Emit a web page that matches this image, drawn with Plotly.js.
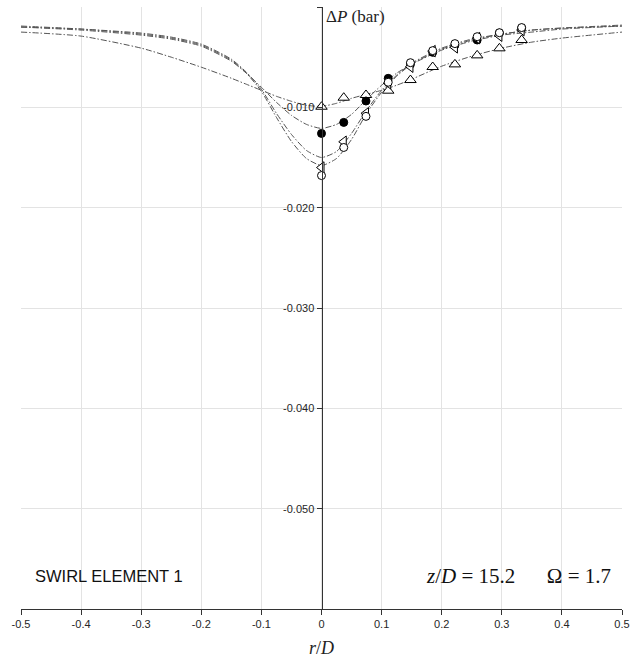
<!DOCTYPE html>
<html>
<head>
<meta charset="utf-8">
<script src="https://cdn.plot.ly/plotly-3.0.1.min.js"></script>
<style>html,body{margin:0;padding:0;background:#fff;}#chart{width:633px;height:668px;}</style>
</head>
<body>
<div id="chart"></div>
<script>
// Measured points (r/D)
const rPoints = [0, 0.037, 0.074, 0.111, 0.148, 0.185, 0.222, 0.259, 0.296, 0.333];
const dpCircleOpen   = [-0.0168, -0.0140, -0.0109, -0.0075, -0.00555, -0.00435, -0.00365, -0.00296, -0.00256, -0.00205];
const dpCircleFilled = [-0.0126, -0.0115, -0.00937, -0.00711, -0.0057, -0.00452, -0.0038, -0.00329, -0.0026, -0.0021];
const dpTriUp        = [-0.00994, -0.00904, -0.00877, -0.00834, -0.00728, -0.00598, -0.00572, -0.00482, -0.00412, -0.00329];
const dpTriLeft      = [-0.0160, -0.01343, -0.0106, -0.0076, -0.00595, -0.0044, -0.00402, -0.0031, -0.00286, -0.00229];

// Fitted curves (r/D)
const rCurve = [-0.5, -0.4, -0.3, -0.25, -0.2, -0.15, -0.125, -0.1, -0.075, -0.05, -0.025, 0, 0.025, 0.05, 0.075, 0.1, 0.125, 0.15, 0.2, 0.25, 0.3, 0.35, 0.4, 0.5];
const fitCircleOpen   = [-0.0019, -0.0022, -0.0027, -0.0031, -0.0038, -0.0053, -0.0066, -0.0084, -0.0110, -0.0134, -0.0151, -0.0158, -0.0151, -0.0132, -0.0106, -0.0085, -0.0069, -0.0057, -0.0042, -0.0033, -0.0027, -0.0023, -0.0021, -0.0018];
const fitTriLeft      = [-0.0020, -0.0022, -0.0026, -0.0030, -0.0037, -0.0052, -0.0065, -0.0082, -0.0106, -0.0127, -0.0143, -0.0150, -0.0144, -0.0126, -0.0103, -0.0083, -0.0068, -0.0056, -0.0041, -0.0032, -0.0027, -0.0023, -0.0021, -0.0019];
const fitCircleFilled = [-0.0020, -0.0023, -0.0028, -0.0032, -0.0039, -0.0054, -0.0066, -0.0080, -0.0095, -0.0108, -0.0117, -0.0121, -0.0117, -0.0107, -0.0092, -0.0078, -0.0066, -0.0057, -0.0043, -0.0034, -0.0028, -0.0025, -0.0022, -0.0019];
const fitTriUp        = [-0.0025, -0.0029, -0.0041, -0.0050, -0.0060, -0.0071, -0.0077, -0.0083, -0.0089, -0.0094, -0.0098, -0.0099, -0.0096, -0.0091, -0.0087, -0.0083, -0.0078, -0.0072, -0.0059, -0.0049, -0.0041, -0.0035, -0.0031, -0.0025];

const xTicks = [-0.5, -0.4, -0.3, -0.2, -0.1, 0, 0.1, 0.2, 0.3, 0.4, 0.5];
const xTickText = ['-0.5', '-0.4', '-0.3', '-0.2', '-0.1', '0', '0.1', '0.2', '0.3', '0.4', '0.5'];
const yTicks = [0, -0.01, -0.02, -0.03, -0.04, -0.05, -0.06];
const yTickText = ['', '-0.010', '-0.020', '-0.030', '-0.040', '-0.050', ''];

const lineStyle = {color: '#555', width: 1, dash: '6px,2px,1.5px,2px', shape: 'spline', smoothing: 0.6};
function curve(y) {
  return {x: rCurve, y: y, mode: 'lines', line: lineStyle, hoverinfo: 'skip', showlegend: false};
}
function pts(y, symbol, fill) {
  return {x: rPoints, y: y, mode: 'markers', showlegend: false, cliponaxis: false,
    marker: {symbol: symbol, size: symbol.indexOf('triangle') === 0 ? 10 : 8, color: fill, line: {color: '#000', width: 1}}};
}

const data = [
  curve(fitTriUp), curve(fitCircleFilled), curve(fitTriLeft), curve(fitCircleOpen),
  pts(dpTriUp, 'triangle-up', '#fff'),
  pts(dpCircleFilled, 'circle', '#000'),
  pts(dpTriLeft, 'triangle-left', '#fff'),
  pts(dpCircleOpen, 'circle', '#fff')
];

const layout = {
  width: 633, height: 668,
  margin: {l: 21, r: 11, t: 7, b: 59},
  paper_bgcolor: '#fff', plot_bgcolor: '#fff',
  font: {family: 'Liberation Sans, Arial, sans-serif', size: 11, color: '#262626'},
  xaxis: {
    range: [-0.5, 0.5], tickvals: xTicks, ticktext: xTickText,
    showgrid: true, gridcolor: '#e3e3e3', gridwidth: 1,
    zeroline: false, showline: true, linecolor: '#333', linewidth: 1,
    ticks: 'outside', ticklen: 5, tickcolor: '#333',
    title: {text: '<i>r</i>/<i>D</i>', font: {family: 'Liberation Serif, serif', size: 18, color: '#222'}, standoff: 12},
    fixedrange: true
  },
  yaxis: {
    range: [-0.06, 0], tickvals: yTicks, ticktext: yTickText,
    anchor: 'free', position: 0.5,
    showgrid: true, gridcolor: '#e3e3e3', gridwidth: 1,
    zeroline: false, showline: true, linecolor: '#333', linewidth: 1.3,
    ticks: 'outside', ticklen: 5, tickcolor: '#333',
    fixedrange: true
  },
  annotations: [
    {xref: 'x', yref: 'paper', x: 0.004, y: 1.003, xanchor: 'left', yanchor: 'top', showarrow: false,
     text: 'Δ<i>P</i> (bar)', font: {family: 'Liberation Serif, serif', size: 17, color: '#222'}},
    {xref: 'paper', yref: 'paper', x: 0.02, y: 0.055, xanchor: 'left', yanchor: 'middle', showarrow: false,
     text: 'SWIRL ELEMENT 1', font: {family: 'Liberation Sans, Arial, sans-serif', size: 16.5, color: '#111'}},
    {xref: 'paper', yref: 'paper', x: 0.985, y: 0.055, xanchor: 'right', yanchor: 'middle', showarrow: false,
     text: '<i>z</i>/<i>D</i> = 15.2      Ω = 1.7', font: {family: 'Liberation Serif, serif', size: 21, color: '#111'}}
  ]
};

Plotly.newPlot('chart', data, layout, {staticPlot: true, displayModeBar: false});
</script>
</body>
</html>
